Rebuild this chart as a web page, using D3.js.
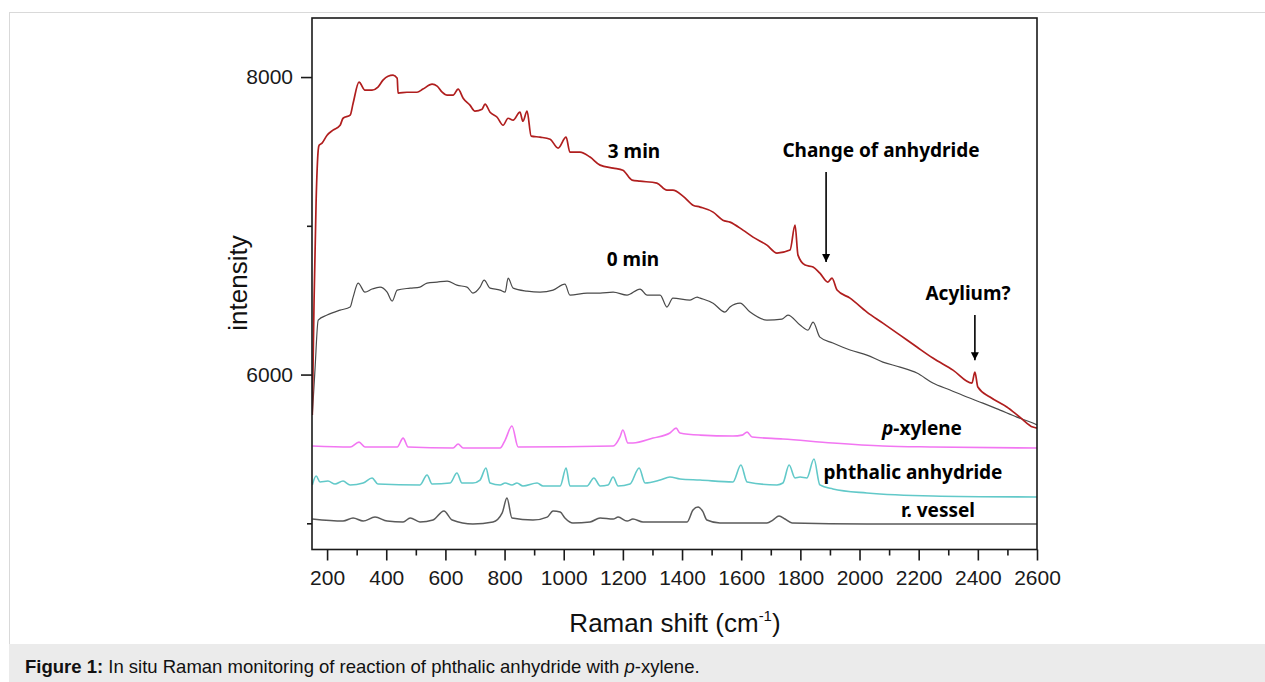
<!DOCTYPE html>
<html><head><meta charset="utf-8">
<script src="https://cdn.jsdelivr.net/npm/d3@7"></script>
<style>
html,body{margin:0;padding:0;background:#fff;}
svg{display:block;}
</style></head>
<body><svg id="c" width="1265" height="682"></svg>
<script>
// ---------- data ----------
const xTickValues = [200,400,600,800,1000,1200,1400,1600,1800,2000,2200,2400,2600];
const xMinorValues = [300,500,700,900,1100,1300,1500,1700,1900,2100,2300,2500];
const yTickValues = [6000, 8000];
const yMinorValues = [5000, 7000];

// [Raman shift, intensity]
const spectrum3min = [[150,5728],[156,6501],[163,7173],[170,7509],[173,7542],[183,7556],[200,7609],[220,7643],[244,7676],[254,7723],[278,7744],[288,7824],[308,7966],[328,7912],[352,7912],[372,7932],[389,7979],[406,8006],[423,8013],[437,7992],[440,7892],[470,7898],[504,7898],[524,7919],[555,7952],[572,7939],[589,7898],[606,7878],[626,7878],[643,7919],[660,7858],[683,7811],[700,7771],[724,7784],[734,7818],[751,7764],[775,7730],[795,7676],[812,7723],[829,7710],[852,7764],[862,7703],[876,7771],[890,7603],[920,7596],[954,7582],[981,7522],[1008,7596],[1021,7495],[1055,7495],[1089,7462],[1123,7408],[1167,7388],[1200,7374],[1231,7307],[1258,7300],[1315,7287],[1349,7240],[1369,7240],[1403,7200],[1437,7139],[1461,7126],[1505,7092],[1538,7038],[1562,7025],[1606,6971],[1640,6924],[1687,6870],[1721,6817],[1765,6837],[1782,7005],[1792,6803],[1816,6736],[1843,6723],[1866,6682],[1893,6622],[1907,6648],[1924,6568],[1968,6514],[2025,6420],[2079,6346],[2137,6265],[2194,6185],[2248,6111],[2316,6030],[2380,5943],[2390,6017],[2400,5916],[2441,5849],[2498,5782],[2542,5714],[2586,5647],[2600,5640]];

const spectrum0min = [[150,5728],[159,6030],[170,6366],[200,6400],[244,6433],[278,6454],[288,6521],[305,6615],[328,6554],[352,6575],[379,6588],[403,6554],[420,6494],[437,6568],[481,6581],[514,6588],[538,6615],[572,6622],[606,6628],[639,6601],[673,6588],[693,6548],[717,6588],[731,6635],[751,6581],[785,6568],[802,6554],[812,6648],[829,6581],[876,6561],[920,6554],[964,6568],[1004,6608],[1021,6534],[1079,6548],[1123,6548],[1167,6554],[1214,6534],[1258,6575],[1282,6534],[1326,6534],[1349,6454],[1369,6514],[1427,6501],[1451,6521],[1461,6514],[1505,6480],[1545,6420],[1562,6454],[1596,6480],[1630,6420],[1687,6366],[1738,6373],[1758,6400],[1799,6333],[1826,6299],[1843,6353],[1866,6252],[1910,6212],[1968,6165],[2025,6131],[2079,6084],[2137,6050],[2194,6010],[2248,5943],[2306,5896],[2363,5849],[2417,5808],[2475,5761],[2532,5714],[2586,5674],[2600,5661]];

const spectrumXylene = [[150,5520],[278,5513],[308,5546],[328,5513],[437,5513],[457,5573],[474,5513],[626,5506],[643,5533],[660,5506],[785,5506],[802,5560],[825,5654],[846,5513],[1167,5520],[1190,5580],[1200,5627],[1217,5540],[1234,5540],[1302,5573],[1359,5607],[1380,5640],[1393,5607],[1461,5593],[1572,5587],[1603,5593],[1620,5613],[1637,5580],[1741,5567],[1910,5540],[2079,5520],[2248,5513],[2600,5506]];

const spectrumAnhydride = [[150,5258],[163,5318],[176,5278],[203,5284],[227,5264],[254,5284],[278,5258],[322,5271],[352,5305],[372,5264],[514,5258],[538,5325],[555,5264],[616,5271],[639,5338],[656,5271],[693,5271],[717,5291],[737,5372],[751,5271],[785,5258],[802,5271],[825,5258],[842,5271],[862,5251],[910,5271],[930,5251],[988,5251],[1008,5372],[1021,5251],[1079,5251],[1102,5305],[1123,5251],[1150,5258],[1167,5311],[1184,5251],[1224,5264],[1255,5372],[1275,5271],[1326,5291],[1359,5311],[1393,5298],[1461,5291],[1572,5278],[1599,5392],[1620,5278],[1721,5258],[1741,5271],[1762,5392],[1782,5305],[1799,5311],[1822,5305],[1846,5432],[1866,5258],[1910,5231],[2025,5204],[2248,5184],[2600,5177]];

const spectrumVessel = [[150,5029],[254,5015],[288,5036],[322,5015],[362,5042],[403,5015],[457,5009],[481,5036],[514,5009],[558,5022],[595,5083],[623,5022],[693,4995],[761,5009],[792,5070],[808,5170],[825,5036],[896,5022],[944,5042],[964,5083],[988,5076],[1004,5036],[1031,5002],[1089,5009],[1123,5036],[1167,5029],[1184,5042],[1214,5015],[1234,5029],[1268,5009],[1349,5009],[1417,5009],[1437,5090],[1454,5110],[1470,5080],[1484,5022],[1528,5002],[1687,5002],[1707,5022],[1728,5049],[1748,5029],[1772,5002],[2025,4995],[2600,4995]];

// arrows: [shift, intensity start, intensity end]
const arrowAnhydride = [1887, 7361, 6756];
const arrowAcylium = [2390, 6400, 6097];

// ---------- drawing ----------
const svg = d3.select("#c");
const W = 1265, H = 682;

// page frame + caption band
svg.append("line").attr("x1",9.5).attr("x2",9.5).attr("y1",12).attr("y2",644).attr("stroke","#d9d9d9");
svg.append("line").attr("x1",9).attr("x2",W).attr("y1",12.5).attr("y2",12.5).attr("stroke","#d9d9d9");
svg.append("rect").attr("x",9).attr("y",644).attr("width",W-9).attr("height",H-644).attr("fill","#ebebeb");

const x = d3.scaleLinear().domain([149,2600]).range([312,1037]);
const y = d3.scaleLinear().domain([4824,8397]).range([549.5,18]);

svg.append("defs").append("clipPath").attr("id","plotclip")
  .append("rect").attr("x",312).attr("y",18).attr("width",725).attr("height",531.5);
svg.select("defs").append("marker").attr("id","arrowhead")
  .attr("viewBox","0 0 10 10").attr("refX",10).attr("refY",5)
  .attr("markerWidth",8).attr("markerHeight",14).attr("markerUnits","userSpaceOnUse")
  .attr("orient","auto")
  .append("path").attr("d","M0,0 L10,5 L0,10 Z").attr("fill","#000");

const line = d3.line().x(d=>x(d[0])).y(d=>y(d[1])).curve(d3.curveMonotoneX);
const plot = svg.append("g").attr("clip-path","url(#plotclip)");

const series = [
  {data: spectrumVessel, color:"#5a5a5a", w:1.5},
  {data: spectrumAnhydride, color:"#62c9c9", w:1.6},
  {data: spectrumXylene, color:"#f276f2", w:1.6},
  {data: spectrum0min, color:"#4a4a4a", w:1.2},
  {data: spectrum3min, color:"#b01e1e", w:1.7}
];
series.forEach(s=>{
  plot.append("path").attr("d", line(s.data)).attr("fill","none")
    .attr("stroke", s.color).attr("stroke-width", s.w).attr("stroke-linejoin","round");
});

// axes
const fontAxis = "'Liberation Sans', Arial, sans-serif";
svg.append("g").attr("transform","translate(0,549.5)")
  .call(d3.axisBottom(x).tickValues(xTickValues).tickSize(11).tickPadding(10).tickFormat(d3.format("d")));
svg.append("g").attr("transform","translate(0,549.5)")
  .call(d3.axisBottom(x).tickValues(xMinorValues).tickSize(6).tickFormat(""));
svg.append("g").attr("transform","translate(312,0)")
  .call(d3.axisLeft(y).tickValues(yTickValues).tickSize(11).tickPadding(8).tickFormat(d3.format("d")));
svg.append("g").attr("transform","translate(312,0)")
  .call(d3.axisLeft(y).tickValues(yMinorValues).tickSize(5).tickFormat(""));
svg.selectAll(".domain").remove();
svg.selectAll(".tick line").attr("stroke","#1a1a1a").attr("stroke-width",1.6);
svg.selectAll(".tick text").attr("font-family",fontAxis).attr("font-size",21).attr("fill","#1a1a1a");

// frame
svg.append("rect").attr("x",312).attr("y",18).attr("width",725).attr("height",531.5)
  .attr("fill","none").attr("stroke","#1a1a1a").attr("stroke-width",1.6);

// axis titles
svg.append("text").attr("x",675).attr("y",632).attr("text-anchor","middle")
  .attr("font-family",fontAxis).attr("font-size",26).attr("fill","#111")
  .html('Raman shift (cm<tspan dy="-11" font-size="15">-1</tspan><tspan dy="11">)</tspan>');
svg.append("text").attr("transform","translate(247,283) rotate(-90)").attr("text-anchor","middle")
  .attr("font-family",fontAxis).attr("font-size",26).attr("fill","#111").text("intensity");

// annotations
const fontAnn = "'Noto Sans', 'Open Sans', sans-serif";
const ann = svg.append("g").attr("font-family",fontAnn).attr("font-weight","bold")
  .attr("font-size",19).attr("fill","#000").attr("text-anchor","middle");
ann.append("text").attr("x",634).attr("y",158).text("3 min");
ann.append("text").attr("x",633).attr("y",266).text("0 min");
ann.append("text").attr("x",881).attr("y",157).text("Change of anhydride");
ann.append("text").attr("x",968).attr("y",300).text("Acylium?");
ann.append("text").attr("x",922).attr("y",435).html('<tspan font-style="italic">p</tspan>-xylene');
ann.append("text").attr("x",913).attr("y",479).text("phthalic anhydride");
ann.append("text").attr("x",938).attr("y",517).text("r. vessel");

[arrowAnhydride, arrowAcylium].forEach(a=>{
  svg.append("line").attr("x1",x(a[0])).attr("x2",x(a[0])).attr("y1",y(a[1])).attr("y2",y(a[2]))
    .attr("stroke","#000").attr("stroke-width",1.6).attr("marker-end","url(#arrowhead)");
});

// caption
svg.append("text").attr("x",25).attr("y",673).attr("font-family",fontAxis).attr("font-size",18.5).attr("fill","#111")
  .html('<tspan font-weight="bold">Figure 1:</tspan> In situ Raman monitoring of reaction of phthalic anhydride with <tspan font-style="italic">p</tspan>-xylene.');
</script>
</body></html>
